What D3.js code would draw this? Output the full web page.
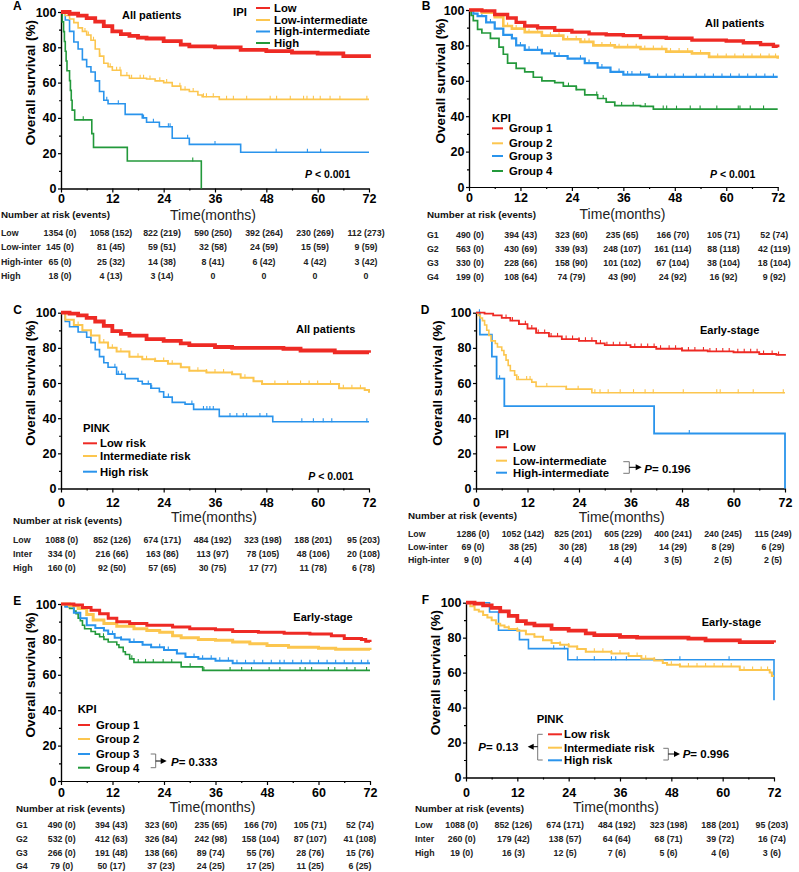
<!DOCTYPE html>
<meta charset="utf-8">
<html>
<style>
body { margin: 0; background: #fff; }
svg text { font-family: Arial, "Liberation Sans", sans-serif; }
.axis path, .axis line { stroke: #000; stroke-width: 1.2; }
.axis text { font-size: 12.5px; font-weight: bold; fill: #000; }
.lg { font-size: 11.3px; font-weight: bold; }
.sub { font-size: 11px; font-weight: bold; }
.num { font-size: 9.8px; font-weight: bold; fill: #111; }
.tab { font-size: 8.8px; font-weight: bold; fill: #222; }
.time { font-size: 14px; fill: #222; }
.ylab { font-size: 13.5px; font-weight: bold; }
.letter { font-size: 12px; font-weight: bold; }
.pv { font-weight: bold; }
</style>
<svg width="799" height="872"></svg>
<script src="https://d3js.org/d3.v7.min.js"></script>
<script>
var timeTicks = [0, 12, 24, 36, 48, 60, 72];
var minorTime = [6, 18, 30, 42, 54, 66];
var survTicks = [0, 20, 40, 60, 80, 100];
var minorSurv = [10, 30, 50, 70, 90];

var red = "#ee2a24", yellow = "#fcc64f", blue = "#2a94ec", green = "#23993b";

// A: IPI, all patients  [time (months), survival (%)]
var ipiAllLow = [[0,100],[2,99],[4,98],[6,96.5],[8,94.5],[10,92],[12,89],[14,87.5],[16,86.5],[18,85.5],[20,85],[24,83.5],[28,81.5],[30,80.5],[36,80],[42,78.5],[48,77.8],[54,77],[60,76.5],[66,75],[72,74]];
var ipiAllLowInt = [[0,100],[1,98],[2,96],[3,94],[4,91],[5,89],[6,87],[7,84],[8,79],[9,75],[10,71],[11,69],[12,67],[14,64],[16,62.5],[20,62],[22,61],[24,60],[26,58],[28,56],[30,55],[32,53],[33,52],[37,50.5],[72,50.5]];
var ipiAllHighInt = [[0,100],[1,95.5],[2,89],[3,83],[4,79],[5,73],[6,69],[7,66],[8,61],[9,55],[10,50],[11,48],[15,42],[19,40],[20,37.5],[23,35],[26,28.5],[30,25],[42,20.5],[72,20.5]];
var ipiAllHigh = [[0,100],[0.3,94.4],[0.6,88.9],[0.8,83.3],[1,77.8],[1.2,72.2],[1.4,66.7],[2,61.1],[2.2,55.6],[2.4,50],[2.6,44.4],[3.2,38.9],[7.2,31.1],[7.6,23.3],[15.5,15.6],[32.8,0]];
var ipiAllLowIntCens = [5.6,6.4,7.6,9.1,11.5,13,13.8,15.4,16.5,18.5,19.3,20.8,23.1,24.7,27.8,29,30.9,33.3,34,35.6,38.7,40.3,43.4,48.9,50.4,53.6,56.7,57.5,59,60.6,62.9,65.2,71.5];
var ipiAllHighIntCens = [10.7,13.4,19.3,21.6,25.1,25.5,29.6,36,50.3,57.6,60.7];
var ipiAllHighCens = [5.2,30.8];

// B: KPI, all patients
var kpiAllG1 = [[0,100],[3,99.5],[6,97.5],[9,95.5],[11,93],[13,91],[16,90],[20,88.5],[24,87.5],[28,86.5],[32,86],[36,85.5],[40,84.5],[46,84],[52,83],[60,82.5],[64,81.5],[68,80.5],[71,79.5],[72,79]];
var kpiAllG2 = [[0,100],[3,98.5],[6,96],[8,91],[10,89.5],[13,87.5],[17,85.5],[22,83.5],[26,82],[29,80],[34,79],[40,78],[46,76.5],[52,75.5],[56,73.5],[72,72.5]];
var kpiAllG3 = [[0,100],[1,98],[2,96.5],[4,93],[6,89.5],[8,86],[10,84],[11,80],[13,77.5],[17,75.5],[20,74],[23,72.5],[27,70],[30,67.5],[33,65],[36,63.5],[42,62.2],[72,62.2]];
var kpiAllG4 = [[0,100],[0.5,97],[1,94],[2,89],[3,87],[5,84],[7,79],[8,75],[9,70],[11,67],[13,65],[15,62],[17,60],[20,59],[22,57],[25,55],[27,52],[30,50],[32,48],[34,46],[40,45.5],[43,44],[72,44]];
var kpiAllG2Cens = [4,9,11,14,16,19,21,23,25,27,28,31,33,35,37,39,41,43,45,47,49,51,54,56,58,60,62,64,66,68,70,71.5];
var kpiAllG3Cens = [3,5,8,10,12,14,16,19,21,23,26,28,31,33,35,37,38,40,42,44,46,48,50,53,55,57,59,61,63,65,67,69,71];
var kpiAllG4Cens = [23.2,25.1,29.8,31.3,35.6,38.3,41.1,45.3,46.1,48.4,51.6,53.9,57.8,62.8,63.2,65.6,68.7];

// C: PINK, all patients
var pinkAllLow = [[0,100],[2,99.5],[4,98.5],[6,97],[8,95],[10,92.5],[12,89.5],[14,88],[16,87],[20,85],[24,84],[28,82.5],[30,81.5],[36,80.5],[40,80],[52,79.5],[56,78.5],[64,77.5],[72,77.2]];
var pinkAllInt = [[0,100],[1,96],[3,93],[5,90],[7,87],[9,83],[11,80],[13,78],[16,75],[19,73.5],[22,72.5],[25,71],[28,69],[30,67],[34,66],[40,65],[42,63],[45,61],[47,59.5],[64,59.5],[65,57],[71,56],[72,54.5]];
var pinkAllHigh = [[0,100],[1,95],[2,92],[4,89],[6,86],[7,83],[8,79],[9,75],[10,71.5],[11,69],[13,65],[15,62.5],[18,61],[19,59.5],[21,57],[23,55],[24,52],[26,49],[29,48],[31,45],[37,41],[49.5,38],[72,38]];
var pinkAllIntCens = [4,7,10,12,14,16,18,20,22,24,26,28,30,32,34,36,38,40,43,47,50,53,56,58,60,63,66,68,70];
var pinkAllHighCens = [12.6,13.4,14.2,20.4,21.2,25.1,30.6,33.3,34.1,34.8,35.6,39.5,41.1,42.6,43.4,46.5,48.1,56.3,59,61.3,63.3,71.5];

// D: IPI, early stage
var ipiEarlyLow = [[0,100],[2,99.5],[4,98.5],[6,97],[8,95.5],[10,93.5],[12,91],[14,88.5],[17,86.5],[20,85],[24,84],[28,82.5],[30,81.5],[36,80.5],[42,79.5],[48,78.5],[54,78],[60,77.5],[66,76.5],[70,76],[72,75.5]];
var ipiEarlyLowInt = [[0,100],[0.5,98.5],[1,97],[1.5,95.5],[2,93],[2.5,90],[3,87],[3.5,84],[4.5,82.5],[5,80.5],[6,78.5],[6.5,76],[7,73],[7.5,70],[8,67],[9,64.5],[9.5,62],[13,60.5],[14,58],[21,56.5],[27,54.5],[72,54.5]];
var ipiEarlyHighInt = [[0,100],[0.9,87.5],[3.7,75],[4.8,62.5],[6.6,46.9],[41.5,31.3],[72,0]];
var ipiEarlyLowCens = [7,8.5,10,11.5,13,14.5,16,17.5,19,21,22.5,24,25.5,27,29,30.5,32,33.5,35,37,38.5,40,41.5,43,45,46.5,48,49.5,51,53,54.5,56,57.5,59,61,62.5,64,65.5,67,69,70.5];
var ipiEarlyLowIntCens = [9.9,11.8,12.6,16.5,21.1,23.8,27.7,28.9,30.8,33.6,36.7,39.4,41.3,48.3,56.1,56.9,61.1,64.6,71.6];
var ipiEarlyHighIntCens = [0.8,5.5,49.7];

// E: KPI, early stage
var kpiEarlyG1 = [[0,100],[3,99.5],[5,98],[7,96.5],[9,94.5],[11,92],[13,90],[16,89],[20,88],[26,87],[30,86],[36,85.5],[40,84.5],[46,84],[52,83.5],[58,83],[63,82],[66,80.5],[70,80],[71,79],[72,78.5]];
var kpiEarlyG2 = [[0,100],[2,99],[4,97.5],[6,94],[7.5,91],[10,89],[13,87.5],[17,86],[20,85],[23,84],[26,82],[28,81],[32,80],[36,79.5],[40,78.5],[44,77.5],[48,76.5],[53,75.5],[60,75],[64,74.5],[72,74]];
var kpiEarlyG3 = [[0,100],[1,98.5],[3,95],[4.5,92],[6,88],[8,86.5],[10,85],[11,83],[12.5,81],[14,80],[16,78.5],[19,77],[21,75.5],[24,74],[27,72],[29,70],[32,69],[36,68],[40,66.5],[72,66.5]];
var kpiEarlyG4 = [[0,100],[1,98.7],[2,97.5],[3,96],[3.5,94.5],[4,92],[4.5,90.5],[5,88],[5.5,86],[7,84.5],[8,83],[9,81.5],[10,80],[11,78.5],[13,77],[13.5,75.5],[14.5,73],[15,71.5],[16,69],[17,67],[28,64.5],[33,62.5],[72,62.5]];
var kpiEarlyG3Cens = [12,14,17,19,21,23,25,27,29,31,33,35,37,39,41,43,45,47,49,51,52,54,56,58,60,62,64,66,68,70,71.5];
var kpiEarlyG4Cens = [9.9,16.5,18,19.7,21.5,23.8,25.8,30.1,33.3,39.4,42.1,44.4,48.5,51,55.7,56.9,58.4,62.3,63.8,66.6,68.5,71.2];

// F: PINK, early stage (low-risk curve same as C)
var pinkEarlyInt = [[0,100],[1,98],[2,96],[3,95],[4,93],[5,91.5],[6,90],[7,88],[8,87],[9,86],[10,85],[12,84],[14,82],[16,80.5],[18,78.5],[20,77],[22,76],[24,75],[26,73.5],[28,72],[34,71],[38,69.5],[41,68],[44,67],[46,65.5],[47,64.5],[50,63.5],[64,61.5],[71,60],[71.5,58],[72,58]];
var pinkEarlyHigh = [[0,100],[5.5,94.7],[7.6,84.2],[12.5,78.9],[14.6,73.7],[23.8,67.4],[72,44.2]];
var pinkEarlyIntCens = [10,12,14,16,18,20,22,24,26,28,30,32,34,36,38,40,42,44,48,50,52,54,56,58,60,62,65,67,69,70.5];
var pinkEarlyHighCens = [20.5,23,26,30,34,35,37.5,50,61.5];

// numbers at risk (events)
var riskA = [
  ["Low", "1354 (0)", "1058 (152)", "822 (219)", "590 (250)", "392 (264)", "230 (269)", "112 (273)"],
  ["Low-inter", "145 (0)", "81 (45)", "59 (51)", "32 (58)", "24 (59)", "15 (59)", "9 (59)"],
  ["High-inter", "65 (0)", "25 (32)", "14 (38)", "8 (41)", "6 (42)", "4 (42)", "3 (42)"],
  ["High", "18 (0)", "4 (13)", "3 (14)", "0", "0", "0", "0"]];
var riskB = [
  ["G1", "490 (0)", "394 (43)", "323 (60)", "235 (65)", "166 (70)", "105 (71)", "52 (74)"],
  ["G2", "563 (0)", "430 (69)", "339 (93)", "248 (107)", "161 (114)", "88 (118)", "42 (119)"],
  ["G3", "330 (0)", "228 (66)", "158 (90)", "101 (102)", "67 (104)", "38 (104)", "18 (104)"],
  ["G4", "199 (0)", "108 (64)", "74 (79)", "43 (90)", "24 (92)", "16 (92)", "9 (92)"]];
var riskC = [
  ["Low", "1088 (0)", "852 (126)", "674 (171)", "484 (192)", "323 (198)", "188 (201)", "95 (203)"],
  ["Inter", "334 (0)", "216 (66)", "163 (86)", "113 (97)", "78 (105)", "48 (106)", "20 (108)"],
  ["High", "160 (0)", "92 (50)", "57 (65)", "30 (75)", "17 (77)", "11 (78)", "6 (78)"]];
var riskD = [
  ["Low", "1286 (0)", "1052 (142)", "825 (201)", "605 (229)", "400 (241)", "240 (245)", "115 (249)"],
  ["Low-inter", "69 (0)", "38 (25)", "30 (28)", "18 (29)", "14 (29)", "8 (29)", "6 (29)"],
  ["High-inter", "9 (0)", "4 (4)", "4 (4)", "4 (4)", "3 (5)", "2 (5)", "2 (5)"]];
var riskE = [
  ["G1", "490 (0)", "394 (43)", "323 (60)", "235 (65)", "166 (70)", "105 (71)", "52 (74)"],
  ["G2", "532 (0)", "412 (63)", "326 (84)", "242 (98)", "158 (104)", "87 (107)", "41 (108)"],
  ["G3", "266 (0)", "191 (48)", "138 (66)", "89 (74)", "55 (76)", "28 (76)", "15 (76)"],
  ["G4", "79 (0)", "50 (17)", "37 (23)", "24 (25)", "17 (25)", "11 (25)", "6 (25)"]];
var riskF = [
  ["Low", "1088 (0)", "852 (126)", "674 (171)", "484 (192)", "323 (198)", "188 (201)", "95 (203)"],
  ["Inter", "260 (0)", "179 (42)", "138 (57)", "64 (64)", "68 (71)", "39 (72)", "16 (74)"],
  ["High", "19 (0)", "16 (3)", "12 (5)", "7 (6)", "5 (6)", "4 (6)", "3 (6)"]];

var ipiNames = ["Low", "Low-intermediate", "High-intermediate", "High"];
var kpiNames = ["Group 1", "Group 2", "Group 3", "Group 4"];
var pinkNames = ["Low risk", "Intermediate risk", "High risk"];

var panels = [
  {letter: "A", lx: 13, ly: 9.5, x0: 61, x1: 369, yTop: 12, yBot: 188.5, xLab: 203, ylabX: 35,
   sub: "All patients", subX: 122, subY: 19, pv: " < 0.001", pX: 305, pY: 178.3, pSize: 10.5,
   timeX: 213, timeY: 219.5, numX: 1, numY: 217.7, rowX: 1, rowY: [236, 250, 264.5, 279.3], colX0: 60, colStep: 51,
   risk: riskA,
   legend: {title: "IPI", titleX: 233, titleY: 15.7, lineX: 256, lineW: 14, textX: 274, ys: [8, 20, 31.5, 43]},
   series: [
     {name: ipiNames[0], color: red, data: ipiAllLow, width: 3.8},
     {name: ipiNames[1], color: yellow, data: ipiAllLowInt, cens: ipiAllLowIntCens, width: 1.6},
     {name: ipiNames[2], color: blue, data: ipiAllHighInt, cens: ipiAllHighIntCens, width: 1.6},
     {name: ipiNames[3], color: green, data: ipiAllHigh, cens: ipiAllHighCens, width: 1.6}]},
  {letter: "B", lx: 421.7, ly: 9.5, x0: 469, x1: 777.7, yTop: 10, yBot: 187, xLab: 201.5, ylabX: 445,
   sub: "All patients", subX: 705, subY: 26.7, pv: " < 0.001", pX: 710, pY: 177.5, pSize: 10.5,
   timeX: 622.5, timeY: 218.5, numX: 427, numY: 217.7, rowX: 427, rowY: [238.3, 252.3, 266, 280], colX0: 470, colStep: 50.7,
   risk: riskB,
   legend: {title: "KPI", titleX: 492, titleY: 121.7, lineX: 492, lineW: 11, textX: 509, ys: [128.3, 143.3, 156, 171]},
   series: [
     {name: kpiNames[0], color: red, data: kpiAllG1, width: 3.4},
     {name: kpiNames[1], color: yellow, data: kpiAllG2, cens: kpiAllG2Cens, width: 2.6},
     {name: kpiNames[2], color: blue, data: kpiAllG3, cens: kpiAllG3Cens, width: 2.2},
     {name: kpiNames[3], color: green, data: kpiAllG4, cens: kpiAllG4Cens, width: 1.7}]},
  {letter: "C", lx: 13.3, ly: 314, x0: 61, x1: 369, yTop: 312.7, yBot: 488.5, xLab: 507, ylabX: 35,
   sub: "All patients", subX: 296, subY: 333.3, pv: " < 0.001", pX: 308.3, pY: 480, pSize: 10.5,
   timeX: 214, timeY: 522, numX: 13, numY: 523.5, rowX: 13, rowY: [543.3, 556.7, 571], colX0: 61.7, colStep: 50.3,
   risk: riskC,
   legend: {title: "PINK", titleX: 83, titleY: 431.7, lineX: 83, lineW: 14, textX: 100, ys: [443.3, 456, 471.7]},
   series: [
     {name: pinkNames[0], color: red, data: pinkAllLow, width: 3.8},
     {name: pinkNames[1], color: yellow, data: pinkAllInt, cens: pinkAllIntCens, width: 2},
     {name: pinkNames[2], color: blue, data: pinkAllHigh, cens: pinkAllHighCens, width: 1.6}]},
  {letter: "D", lx: 420.7, ly: 314, x0: 476, x1: 785, yTop: 312.7, yBot: 488.5, xLab: 507, ylabX: 442,
   sub: "Early-stage", subX: 700, subY: 334.3,
   timeX: 621.7, timeY: 522, numX: 408, numY: 519, rowX: 408, rowY: [536.8, 549.8, 562.8], colX0: 473, colStep: 50,
   risk: riskD,
   legend: {title: "IPI", titleX: 495, titleY: 438.3, lineX: 496, lineW: 11, textX: 513, ys: [447.3, 460.7, 472.7]},
   notes: [{side: "right", x: 623.3, w: 6, y1: 461.7, y2: 473.3, ay: 467.3, tip: 641.7, tx: 644.3, ty: 473.3, val: "= 0.196"}],
   series: [
     {name: ipiNames[0], color: red, data: ipiEarlyLow, cens: ipiEarlyLowCens, width: 1.8},
     {name: ipiNames[1], color: yellow, data: ipiEarlyLowInt, cens: ipiEarlyLowIntCens, width: 1.6},
     {name: ipiNames[2], color: blue, data: ipiEarlyHighInt, cens: ipiEarlyHighIntCens, width: 1.8}]},
  {letter: "E", lx: 13.3, ly: 605, x0: 61, x1: 370, yTop: 604, yBot: 781, xLab: 797, ylabX: 35,
   sub: "Early-stage", subX: 293.3, subY: 620.7,
   timeX: 212.5, timeY: 812, numX: 16, numY: 811.5, rowX: 16, rowY: [827.5, 841.5, 855.5, 869.2], colX0: 61.7, colStep: 49.7,
   risk: riskE,
   legend: {title: "KPI", titleX: 77.7, titleY: 713.3, lineX: 78, lineW: 12, textX: 96, ys: [725, 739, 754, 767.7]},
   notes: [{side: "right", x: 150.7, w: 5, y1: 754, y2: 767.7, ay: 761, tip: 166.7, tx: 171, ty: 765.5, val: "= 0.333"}],
   series: [
     {name: kpiNames[0], color: red, data: kpiEarlyG1, width: 3},
     {name: kpiNames[1], color: yellow, data: kpiEarlyG2, width: 3},
     {name: kpiNames[2], color: blue, data: kpiEarlyG3, cens: kpiEarlyG3Cens, width: 2},
     {name: kpiNames[3], color: green, data: kpiEarlyG4, cens: kpiEarlyG4Cens, width: 1.6}]},
  {letter: "F", lx: 421.7, ly: 604, x0: 466, x1: 774, yTop: 602.7, yBot: 777.5, xLab: 796.7, ylabX: 440,
   sub: "Early-stage", subX: 701.7, subY: 626,
   timeX: 616, timeY: 812, numX: 415, numY: 811.5, rowX: 415, rowY: [827.5, 841.5, 855.5], colX0: 461.7, colStep: 51.7,
   risk: riskF,
   legend: {title: "PINK", titleX: 536.7, titleY: 723.3, lineX: 548, lineW: 14, textX: 564, ys: [734.3, 747.7, 760.3]},
   notes: [{side: "left", x: 537.7, w: 5, y1: 734.3, y2: 760, ay: 746.7, tip: 527.7, tx: 518.3, ty: 750.7, val: "= 0.13"},
           {side: "right", x: 663.3, w: 5, y1: 748.3, y2: 760, ay: 754, tip: 680, tx: 682.7, ty: 757.7, val: "= 0.996"}],
   series: [
     {name: pinkNames[0], color: red, data: pinkAllLow, width: 3.8},
     {name: pinkNames[1], color: yellow, data: pinkEarlyInt, cens: pinkEarlyIntCens, width: 2},
     {name: pinkNames[2], color: blue, data: pinkEarlyHigh, cens: pinkEarlyHighCens, width: 1.6}]}
];

var svg = d3.select("svg");

// value of a KM step curve at time t
function survAt(knots, t) {
  var s = knots[0][1];
  knots.forEach(function(k) { if (k[0] <= t) s = k[1]; });
  return s;
}

function pText(g, x, y, size, val, anchor) {
  var t = g.append("text").attr("class", "pv").attr("x", x).attr("y", y)
      .style("font-size", size + "px").attr("text-anchor", anchor || "start");
  t.append("tspan").style("font-style", "italic").text("P");
  t.append("tspan").text(val);
}

function drawPanel(p) {
  var x = d3.scaleLinear().domain([0, 72]).range([p.x0, p.x1]);
  var y = d3.scaleLinear().domain([0, 100]).range([p.yBot, p.yTop]);
  var g = svg.append("g");

  // axes (minor ticks first)
  g.append("g").attr("class", "axis").attr("transform", "translate(0," + p.yBot + ")")
      .call(d3.axisBottom(x).tickValues(minorTime).tickSize(2).tickFormat("").tickSizeOuter(0));
  g.append("g").attr("class", "axis").attr("transform", "translate(" + p.x0 + ",0)")
      .call(d3.axisLeft(y).tickValues(minorSurv).tickSize(2).tickFormat("").tickSizeOuter(0));
  g.append("g").attr("class", "axis").attr("transform", "translate(0," + p.yBot + ")")
      .call(d3.axisBottom(x).tickValues(timeTicks).tickSize(4).tickSizeOuter(0)
        .tickPadding(p.xLab - p.yBot - 4 - 0.71 * 12.5));
  g.append("g").attr("class", "axis").attr("transform", "translate(" + p.x0 + ",0)")
      .call(d3.axisLeft(y).tickValues(survTicks).tickSize(3).tickSizeOuter(0).tickPadding(1.5));

  // y label
  g.append("text").attr("class", "ylab").attr("text-anchor", "middle")
      .attr("transform", "translate(" + p.ylabX + "," + (p.yTop + 0.4 * (p.yBot - p.yTop)) + ") rotate(-90)")
      .text("Overall survival (%)");

  // curves, last group drawn first so group 1 sits on top
  var line = d3.line().x(function(d) { return x(d[0]); }).y(function(d) { return y(d[1]); })
      .curve(d3.curveStepAfter);
  p.series.slice().reverse().forEach(function(s) {
    g.append("path").datum(s.data).attr("d", line)
        .attr("fill", "none").attr("stroke", s.color).attr("stroke-width", s.width);
    g.selectAll(null).data(s.cens || []).enter().append("line")
        .attr("x1", function(d) { return x(d); }).attr("x2", function(d) { return x(d); })
        .attr("y1", function(d) { return y(survAt(s.data, d)) - 3.5; })
        .attr("y2", function(d) { return y(survAt(s.data, d)) + 0.5; })
        .attr("stroke", s.color).attr("stroke-width", 1.1);
  });

  // legend
  var L = p.legend;
  g.append("text").attr("class", "lg").attr("x", L.titleX).attr("y", L.titleY).text(L.title);
  p.series.forEach(function(s, i) {
    g.append("line").attr("x1", L.lineX).attr("x2", L.lineX + L.lineW)
        .attr("y1", L.ys[i]).attr("y2", L.ys[i]).attr("stroke", s.color).attr("stroke-width", 2);
    g.append("text").attr("class", "lg").attr("x", L.textX).attr("y", L.ys[i] + 3.8).text(s.name);
  });

  // texts
  g.append("text").attr("class", "letter").attr("x", p.lx).attr("y", p.ly).text(p.letter);
  g.append("text").attr("class", "sub").attr("x", p.subX).attr("y", p.subY).text(p.sub);
  if (p.pv) pText(g, p.pX, p.pY, p.pSize, p.pv);

  (p.notes || []).forEach(function(n) {
    var dir = n.side === "right" ? 1 : -1;
    var xb = n.side === "right" ? n.x + n.w : n.x;
    var xo = n.side === "right" ? n.x : n.x + n.w;
    g.append("path").attr("d", "M" + xo + "," + n.y1 + "H" + xb + "V" + n.y2 + "H" + xo)
        .attr("fill", "none").attr("stroke", "#777").attr("stroke-width", 1);
    g.append("line").attr("x1", xb).attr("x2", n.tip - dir * 4).attr("y1", n.ay).attr("y2", n.ay)
        .attr("stroke", "#000").attr("stroke-width", 1);
    g.append("path").attr("d", "M" + n.tip + "," + n.ay + "L" + (n.tip - dir * 6) + "," + (n.ay - 3) +
        "L" + (n.tip - dir * 6) + "," + (n.ay + 3) + "Z").attr("fill", "#000");
    pText(g, n.tx, n.ty, 11.5, n.val, n.side === "right" ? "start" : "end");
  });

  // risk table
  g.append("text").attr("class", "time").attr("text-anchor", "middle")
      .attr("x", p.timeX).attr("y", p.timeY).text("Time(months)");
  g.append("text").attr("class", "num").attr("x", p.numX).attr("y", p.numY).text("Number at risk (events)");
  p.risk.forEach(function(row, i) {
    g.append("text").attr("class", "tab").attr("x", p.rowX).attr("y", p.rowY[i]).text(row[0]);
    row.slice(1).forEach(function(v, j) {
      g.append("text").attr("class", "tab").attr("text-anchor", "middle")
          .attr("x", p.colX0 + j * p.colStep).attr("y", p.rowY[i]).text(v);
    });
  });
}

panels.forEach(drawPanel);
</script>
</html>
